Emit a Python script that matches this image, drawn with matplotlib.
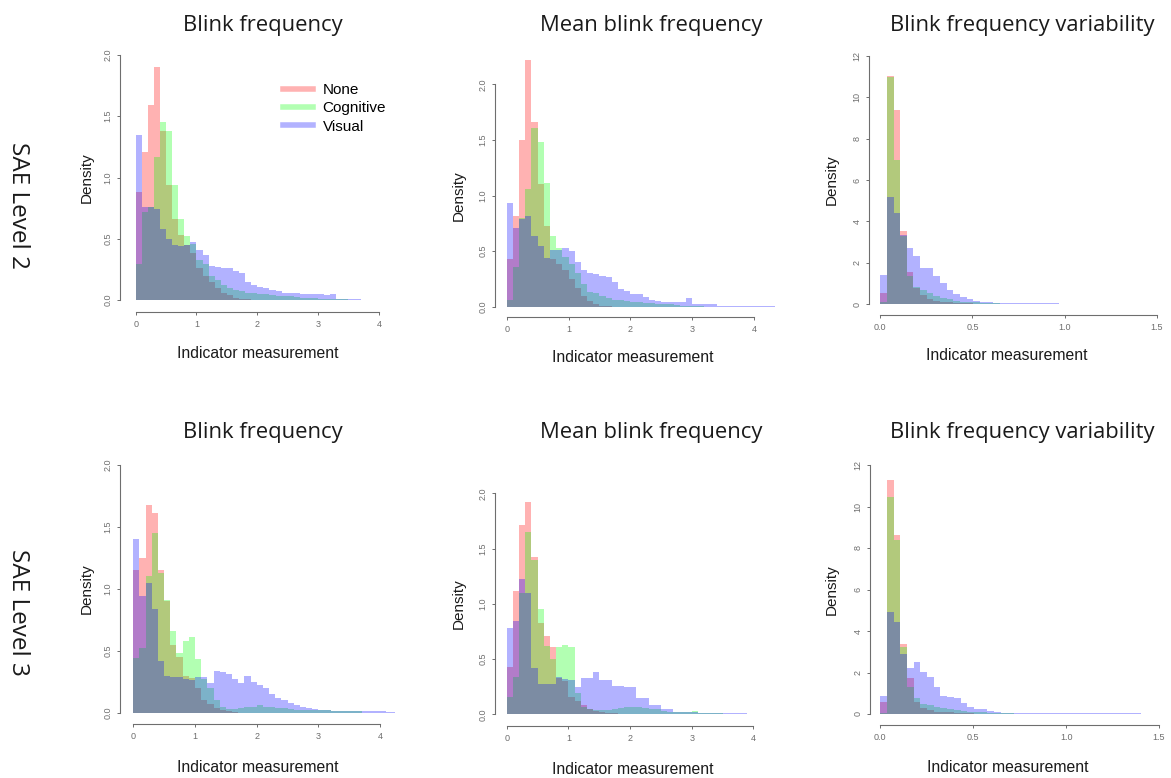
import numpy as np
import matplotlib.pyplot as plt
from matplotlib.lines import Line2D

W, H = 1171, 778

groups = ['None', 'Cognitive', 'Visual']
colors = [(1, 0, 0, 0.3), (0, 1, 0, 0.3), (0, 0, 1, 0.3)]
titles = ['Blink frequency', 'Mean blink frequency', 'Blink frequency variability']
rows = ['SAE Level 2', 'SAE Level 3']

bw_freq = 0.1
bw_var = 0.036

# SAE Level 2 - blink frequency (density per 0.1 bin)
l2_freq_none = [0.88, 1.21, 1.59, 1.90, 1.38, 0.94, 0.66, 0.53, 0.45, 0.38, 0.26, 0.20, 0.15, 0.095,
                0.06, 0.04, 0.02, 0.01, 0.005]
l2_freq_cog = [0.29, 0.72, 0.76, 1.17, 1.45, 1.38, 0.94, 0.66, 0.52, 0.46, 0.33, 0.29, 0.20, 0.16,
               0.12, 0.095, 0.08, 0.07, 0.06, 0.055, 0.05, 0.045, 0.04, 0.035, 0.03, 0.03, 0.025,
               0.02, 0.02, 0.015, 0.01, 0.01, 0.01, 0.008, 0.005]
l2_freq_vis = [1.35, 0.76, 0.76, 0.74, 0.58, 0.50, 0.45, 0.44, 0.45, 0.47, 0.41, 0.37, 0.28, 0.27,
               0.26, 0.26, 0.24, 0.22, 0.15, 0.12, 0.11, 0.10, 0.08, 0.07, 0.06, 0.055, 0.055, 0.05,
               0.05, 0.05, 0.045, 0.04, 0.05, 0.01, 0.008, 0.006, 0.005, 0.004, 0.003, 0.002, 0.002]

# SAE Level 2 - mean blink frequency
l2_mean_none = [0.43, 0.82, 1.50, 2.22, 1.66, 1.10, 0.73, 0.43, 0.38, 0.33, 0.25, 0.17, 0.10, 0.05,
                0.02, 0.01, 0.005]
l2_mean_cog = [0.06, 0.36, 0.80, 1.06, 1.61, 1.48, 1.11, 0.64, 0.53, 0.45, 0.38, 0.30, 0.20, 0.13,
               0.12, 0.10, 0.08, 0.06, 0.06, 0.05, 0.04, 0.04, 0.03, 0.03, 0.02, 0.02, 0.02, 0.015,
               0.01, 0.01, 0.01, 0.005]
l2_mean_vis = [0.93, 0.71, 0.79, 0.82, 0.64, 0.55, 0.44, 0.51, 0.51, 0.53, 0.50, 0.40, 0.33, 0.30,
               0.29, 0.28, 0.27, 0.22, 0.16, 0.14, 0.11, 0.11, 0.09, 0.06, 0.05, 0.045, 0.045, 0.045,
               0.045, 0.075, 0.02, 0.02, 0.02, 0.02, 0.005, 0.003, 0.003, 0.003, 0.003, 0.002, 0.002,
               0.002, 0.002, 0.002, 0.002]

# SAE Level 2 - blink frequency variability (density per 0.036 bin)
l2_var_none = [0.52, 11.05, 9.39, 3.55, 1.55, 0.75, 0.44, 0.25, 0.15, 0.10, 0.08, 0.06, 0.05, 0.04]
l2_var_cog = [0.10, 11.0, 6.97, 3.30, 1.35, 0.80, 0.68, 0.55, 0.40, 0.30, 0.22, 0.15, 0.12, 0.10,
              0.08, 0.07, 0.06, 0.05]
l2_var_vis = [1.40, 5.20, 4.40, 3.35, 2.69, 2.32, 1.76, 1.76, 1.37, 1.00, 0.68, 0.48, 0.32, 0.24,
              0.16, 0.10, 0.08, 0.07, 0.06, 0.06, 0.06, 0.05, 0.05, 0.05, 0.05, 0.05, 0.05]

# SAE Level 3 - blink frequency
l3_freq_none = [1.15, 1.25, 1.68, 1.61, 1.15, 0.90, 0.55, 0.45, 0.30, 0.28, 0.20, 0.10, 0.07, 0.04,
                0.02, 0.01, 0.005]
l3_freq_cog = [0.44, 0.52, 1.10, 1.45, 1.13, 0.91, 0.66, 0.48, 0.58, 0.61, 0.43, 0.27, 0.20, 0.10,
               0.05, 0.03, 0.03, 0.04, 0.05, 0.05, 0.06, 0.05, 0.05, 0.04, 0.04, 0.03, 0.02, 0.02,
               0.02, 0.02, 0.02, 0.02, 0.015, 0.01, 0.01, 0.01, 0.01]
l3_freq_vis = [1.40, 0.94, 1.05, 0.84, 0.42, 0.30, 0.29, 0.29, 0.27, 0.26, 0.29, 0.29, 0.24, 0.34,
               0.33, 0.31, 0.27, 0.24, 0.30, 0.25, 0.22, 0.20, 0.15, 0.12, 0.10, 0.08, 0.06, 0.05,
               0.04, 0.03, 0.025, 0.02, 0.015, 0.01, 0.01, 0.01, 0.01, 0.01, 0.01, 0.01, 0.01,
               0.008, 0.006, 0.005, 0.004]

# SAE Level 3 - mean blink frequency
l3_mean_none = [0.43, 1.12, 1.71, 1.92, 1.42, 0.83, 0.71, 0.61, 0.33, 0.30, 0.16, 0.12, 0.08, 0.05,
                0.03, 0.02, 0.01, 0.01, 0.005]
l3_mean_cog = [0.16, 0.34, 1.10, 1.65, 1.40, 0.95, 0.62, 0.50, 0.61, 0.63, 0.61, 0.19, 0.07, 0.05,
               0.04, 0.04, 0.04, 0.05, 0.06, 0.07, 0.07, 0.07, 0.06, 0.05, 0.05, 0.03, 0.02, 0.02,
               0.02, 0.02, 0.03, 0.01, 0.01, 0.01, 0.01, 0.005, 0.005, 0.005]
l3_mean_vis = [0.78, 0.84, 1.22, 1.10, 0.42, 0.27, 0.27, 0.27, 0.34, 0.32, 0.31, 0.25, 0.33, 0.33,
               0.38, 0.31, 0.31, 0.26, 0.26, 0.25, 0.25, 0.15, 0.15, 0.08, 0.08, 0.045, 0.045, 0.025,
               0.025, 0.025, 0.025, 0.01, 0.01, 0.01, 0.01, 0.01, 0.01, 0.01, 0.01]

# SAE Level 3 - blink frequency variability
l3_var_none = [0.60, 11.28, 8.63, 3.35, 1.72, 0.60, 0.27, 0.20, 0.12, 0.10, 0.08, 0.06, 0.05, 0.04]
l3_var_cog = [0.05, 10.47, 8.40, 3.25, 1.30, 0.75, 0.50, 0.45, 0.35, 0.30, 0.25, 0.20, 0.15, 0.12,
              0.10, 0.08, 0.07, 0.06, 0.05, 0.05]
l3_var_vis = [0.87, 4.90, 4.45, 2.87, 2.20, 2.52, 2.04, 1.80, 1.30, 0.87, 0.80, 0.75, 0.55, 0.33,
              0.26, 0.22, 0.13, 0.08, 0.07, 0.06, 0.06, 0.05, 0.05, 0.05, 0.05, 0.05, 0.04, 0.04,
              0.04, 0.04, 0.04, 0.04, 0.04, 0.04, 0.04, 0.04, 0.04, 0.04, 0.04]

panels = [
    [(l2_freq_none, l2_freq_cog, l2_freq_vis), (l2_mean_none, l2_mean_cog, l2_mean_vis),
     (l2_var_none, l2_var_cog, l2_var_vis)],
    [(l3_freq_none, l3_freq_cog, l3_freq_vis), (l3_mean_none, l3_mean_cog, l3_mean_vis),
     (l3_var_none, l3_var_cog, l3_var_vis)],
]
bin_widths = [bw_freq, bw_freq, bw_var]
xticks = [[0, 1, 2, 3, 4], [0, 1, 2, 3, 4], [0, 0.5, 1.0, 1.5]]
xticklabels = [['0', '1', '2', '3', '4'], ['0', '1', '2', '3', '4'], ['0.0', '0.5', '1.0', '1.5']]
yticks = [[0, 0.5, 1.0, 1.5, 2.0], [0, 0.5, 1.0, 1.5, 2.0], [0, 2, 4, 6, 8, 10, 12]]
yticklabels = [['0.0', '0.5', '1.0', '1.5', '2.0'], ['0.0', '0.5', '1.0', '1.5', '2.0'],
               ['0', '2', '4', '6', '8', '10', '12']]

# pixel geometry of each panel: x=0 px, px per unit, y=0 px, px per unit,
# y-axis line x, x-axis line y, right edge, top edge
geom = [
    [(135.7, 60.8, 300.0, 122.5, 120, 312, 395, 45),
     (506.7, 61.8, 306.7, 111.2, 495, 317, 775, 45),
     (880.3, 184.2, 304.0, 20.67, 869, 315, 1165, 45)],
    [(133.3, 61.7, 712.7, 123.85, 120, 724, 395, 455),
     (506.7, 61.67, 714.3, 110.5, 495, 726, 775, 455),
     (880.3, 185.8, 714.0, 20.75, 870, 725, 1165, 455)],
]
title_y = [25, 432]
title_x = [263, 651, 1022]
xlabel_y = [[353, 358, 355], [768, 769, 768]]
ylabel_x = [87, 459, 832]

plt.rcParams['font.family'] = ['Liberation Sans', 'DejaVu Sans']
fig = plt.figure(figsize=(W / 100, H / 100), dpi=100)
axis_gray = '#6e6e6e'
head_font = ['Open Sans', 'DejaVu Sans']

for r in range(2):
    for c in range(3):
        x0, xu, y0, yu, sx, sy, rx, ty = geom[r][c]
        ax = fig.add_axes([sx / W, 1 - sy / H, (rx - sx) / W, (sy - ty) / H])
        ax.set_xlim((sx - x0) / xu, (rx - x0) / xu)
        ax.set_ylim((y0 - sy) / yu, (y0 - ty) / yu)
        bw = bin_widths[c]
        for vals, col in zip(panels[r][c], colors):
            edges = np.arange(len(vals) + 1) * bw
            ax.stairs(vals, edges, fill=True, color=col, linewidth=0)
        for s in ['top', 'right']:
            ax.spines[s].set_visible(False)
        for s in ['left', 'bottom']:
            ax.spines[s].set_color(axis_gray)
            ax.spines[s].set_linewidth(0.8)
        ax.spines['left'].set_bounds(yticks[c][0], yticks[c][-1])
        ax.spines['bottom'].set_bounds(xticks[c][0], xticks[c][-1])
        ax.set_xticks(xticks[c])
        ax.set_xticklabels(xticklabels[c])
        ax.set_yticks(yticks[c])
        ax.set_yticklabels(yticklabels[c], rotation=90, va='center')
        ax.tick_params(colors=axis_gray, labelsize=6.5, length=2.5, width=0.7, pad=3)
        ax.patch.set_visible(False)

        fig.text(title_x[c] / W, 1 - title_y[r] / H, titles[c], ha='center', va='center',
                 fontsize=15.8, color='#1a1a1a', family=head_font)
        fig.text((sx + 138) / W, 1 - xlabel_y[r][c] / H, 'Indicator measurement',
                 ha='center', va='center', fontsize=11.3, color='#1a1a1a')
        fig.text(ylabel_x[c] / W, 1 - (y0 - 1.0 * (yu if c < 2 else yu * 6)) / H, 'Density',
                 ha='center', va='center', rotation=90, fontsize=11, color='#1a1a1a')

        if r == 0 and c == 0:
            handles = [Line2D([], [], color=col, lw=4) for col in colors]
            ax.legend(handles, groups, loc='upper left', bbox_to_anchor=(283 / W, 1 - 83 / H),
                      bbox_transform=fig.transFigure, frameon=False, fontsize=11,
                      handlelength=1.95, handletextpad=0.65, labelspacing=0.28,
                      borderpad=0, borderaxespad=0)

for r, yc in enumerate([205, 612]):
    fig.text(18 / W, 1 - yc / H, rows[r], ha='center', va='center', rotation=-90,
             fontsize=17.5, color='#1a1a1a', family=head_font)

fig.savefig('out.png', dpi=100)
